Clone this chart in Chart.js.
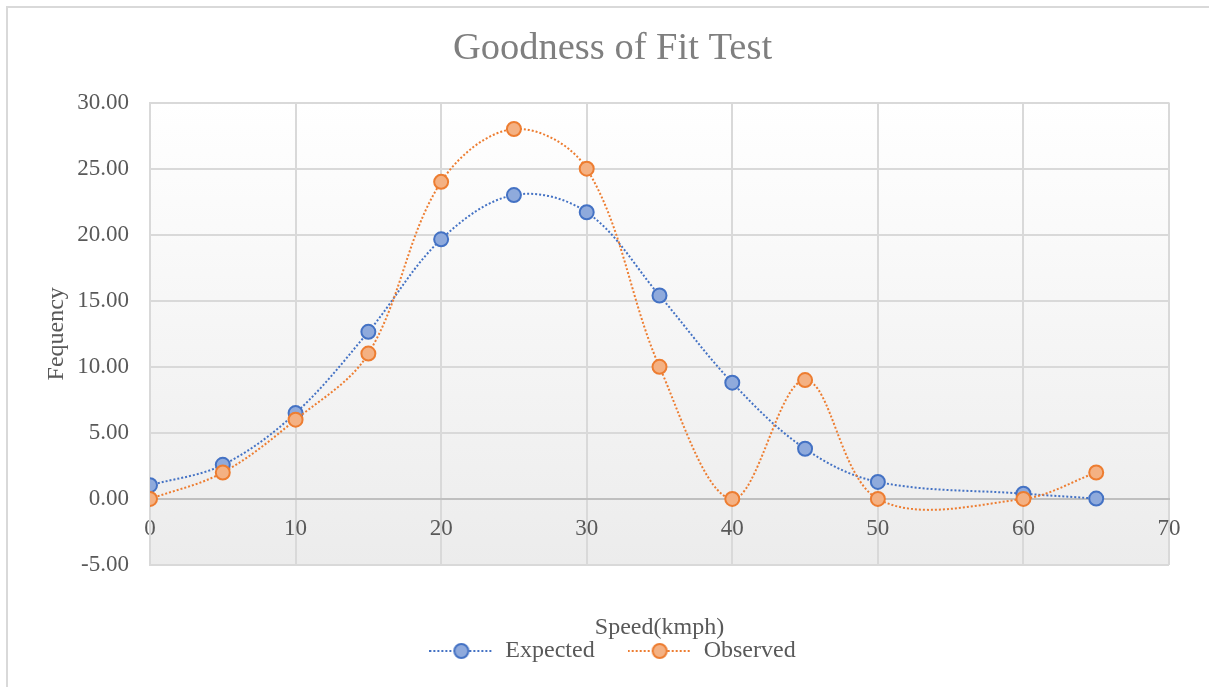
<!DOCTYPE html>
<html>
<head>
<meta charset="utf-8">
<script src="https://cdn.jsdelivr.net/npm/chart.js@4.4.1/dist/chart.umd.min.js"></script>
<style>
html, body { margin: 0; padding: 0; background: #fff; overflow: hidden; }
#frame { position: absolute; left: 6px; top: 6px; width: 1400px; height: 900px; border: 2px solid #d9d9d9; box-sizing: border-box; }
#wrap { position: absolute; left: 0; top: 0; width: 1209px; height: 687px; }
</style>
</head>
<body>
<div id="frame"></div>
<div id="wrap"><canvas id="chart" width="1209" height="687"></canvas></div>
<script>
// data
const speeds = [0, 5, 10, 15, 20, 25, 30, 35, 40, 45, 50, 60, 65];
const expected = [1.04, 2.58, 6.5, 12.65, 19.65, 23.0, 21.7, 15.4, 8.8, 3.8, 1.29, 0.4, 0.03];
const observed = [0, 2, 6, 11, 24, 28, 25, 10, 0, 9, 0, 0, 2];
const seriesNames = ['Expected', 'Observed'];
const xTicks = { min: 0, max: 70, step: 10 };
const yTicks = { min: -5, max: 30, step: 5 };

const serif = "'Liberation Serif', 'Times New Roman', serif";
const textColor = '#595959';
const gridColor = '#d9d9d9';

function toPoints(xs, ys) {
    return xs.map((x, i) => ({ x: x, y: ys[i] }));
}

// dotted line + marker, used as the legend symbol
function legendMark(line, fill) {
    const c = document.createElement('canvas');
    c.width = 64;
    c.height = 18;
    const g = c.getContext('2d');
    g.strokeStyle = line;
    g.lineWidth = 2;
    g.setLineDash([2, 2]);
    g.beginPath();
    g.moveTo(0, 9);
    g.lineTo(64, 9);
    g.stroke();
    g.setLineDash([]);
    g.beginPath();
    g.arc(32, 9, 7, 0, Math.PI * 2);
    g.fillStyle = fill;
    g.fill();
    g.stroke();
    return c;
}

const marks = [legendMark('#4472c4', '#8faadc'), legendMark('#ed7d31', '#f4b183')];

const plotBackground = {
    id: 'plotBackground',
    beforeDraw(chart) {
        const { ctx, chartArea: a } = chart;
        const g = ctx.createLinearGradient(0, a.top, 0, a.bottom);
        g.addColorStop(0, '#ffffff');
        g.addColorStop(1, '#ececec');
        ctx.save();
        ctx.fillStyle = g;
        ctx.fillRect(a.left, a.top, a.right - a.left, a.bottom - a.top);
        ctx.restore();
    }
};

new Chart(document.getElementById('chart'), {
    type: 'scatter',
    data: {
        datasets: [{
            label: seriesNames[0],
            data: toPoints(speeds, expected),
            showLine: true,
            tension: 0.35,
            borderColor: '#4472c4',
            borderWidth: 2,
            borderDash: [2, 2],
            pointRadius: 7,
            pointBorderWidth: 2,
            pointBackgroundColor: '#8faadc',
            pointBorderColor: '#4472c4',
            order: 1
        }, {
            label: seriesNames[1],
            data: toPoints(speeds, observed),
            showLine: true,
            tension: 0.35,
            borderColor: '#ed7d31',
            borderWidth: 2,
            borderDash: [2, 2],
            pointRadius: 7,
            pointBorderWidth: 2,
            pointBackgroundColor: '#f4b183',
            pointBorderColor: '#ed7d31',
            order: 0
        }]
    },
    options: {
        responsive: false,
        animation: false,
        layout: { padding: { left: 56, right: 40, top: 0, bottom: 14 } },
        plugins: {
            tooltip: { enabled: false },
            title: {
                display: true,
                text: 'Goodness of Fit Test',
                color: '#7f7f7f',
                font: { family: serif, size: 38.5, weight: 'normal' },
                padding: { top: 26, bottom: 30.4 }
            },
            legend: {
                position: 'bottom',
                title: { display: true, text: ' ', font: { size: 1 }, padding: { top: 39.8, bottom: 0 } },
                labels: {
                    usePointStyle: true,
                    pointStyleWidth: 64,
                    padding: 33,
                    color: textColor,
                    font: { family: serif, size: 24 },
                    generateLabels(chart) {
                        const items = Chart.defaults.plugins.legend.labels.generateLabels(chart);
                        items.sort((a, b) => a.datasetIndex - b.datasetIndex);
                        items.forEach(it => { it.pointStyle = marks[it.datasetIndex]; });
                        return items;
                    }
                }
            }
        },
        scales: {
            x: {
                type: 'linear',
                position: { y: 0 },
                min: xTicks.min,
                max: xTicks.max,
                ticks: {
                    stepSize: xTicks.step,
                    padding: 16,
                    color: textColor,
                    font: { family: serif, size: 23 }
                },
                grid: { color: gridColor, lineWidth: 2, drawTicks: false },
                border: { color: '#bfbfbf', width: 2 },
                title: {
                    display: true,
                    text: 'Speed(kmph)',
                    color: textColor,
                    font: { family: serif, size: 24 },
                    padding: { top: 55, bottom: 0 }
                }
            },
            y: {
                min: yTicks.min,
                max: yTicks.max,
                afterFit(scale) { scale.width = 94; },
                ticks: {
                    stepSize: yTicks.step,
                    padding: 21,
                    color: textColor,
                    font: { family: serif, size: 23 },
                    callback: v => v.toFixed(2)
                },
                grid: { color: gridColor, lineWidth: 2, drawTicks: false },
                border: { color: gridColor, width: 2 },
                title: {
                    display: true,
                    text: 'Fequency',
                    color: textColor,
                    font: { family: serif, size: 24 },
                    padding: { top: -13.4, bottom: 0 }
                }
            }
        }
    },
    plugins: [plotBackground]
});
</script>
</body>
</html>
